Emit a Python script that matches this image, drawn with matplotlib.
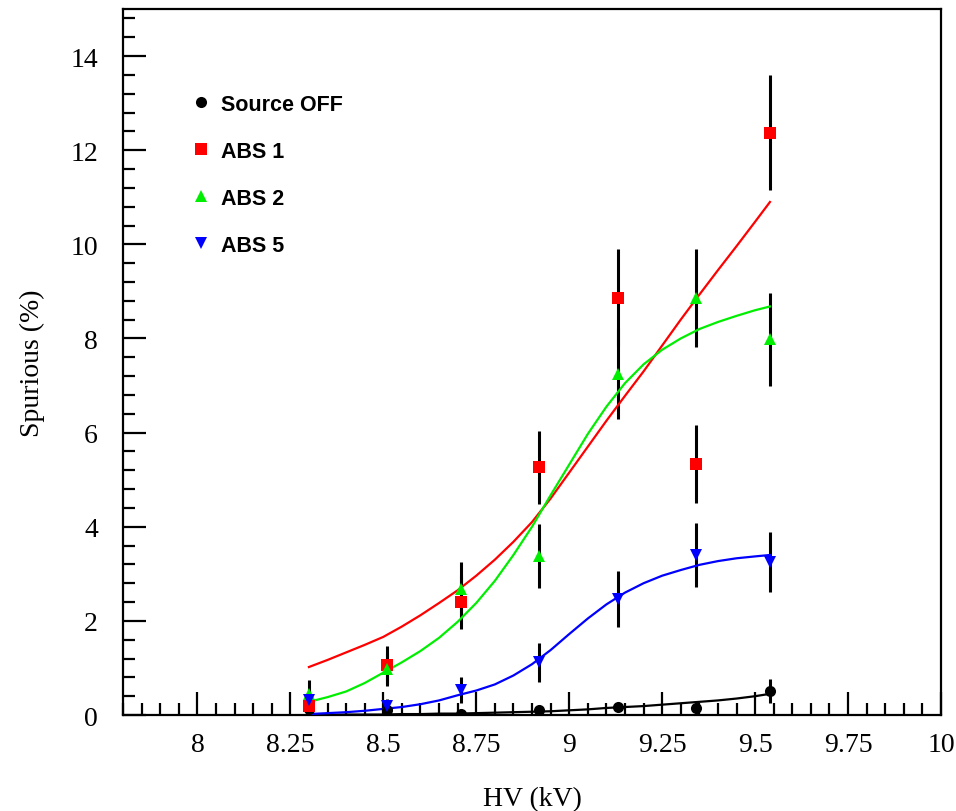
#!/usr/bin/env python3
# -*- coding: utf-8 -*-

import matplotlib
matplotlib.use('Agg')
import matplotlib.pyplot as plt
from matplotlib.ticker import MultipleLocator

#------------------------------------------------------------------------------
# Data
#------------------------------------------------------------------------------
# High voltage settings (kV)
hv = [8.30, 8.51, 8.71, 8.92, 9.13, 9.34, 9.54]

# Spurious rate (%) and errors
source_off     = [0.13, 0.10, 0.02, 0.10, 0.18, 0.15, 0.51]
source_off_err = [0.10, 0.05, 0.03, 0.06, 0.08, 0.10, 0.25]
abs1           = [0.20, 1.06, 2.40, 5.26, 8.87, 5.34, 12.37]
abs1_err       = [0.20, 0.40, 0.58, 0.77, 1.03, 0.83, 1.22]
abs2           = [0.45, 0.97, 2.67, 3.38, 7.25, 8.86, 7.98]
abs2_err       = [0.29, 0.35, 0.58, 0.68, 0.97, 1.05, 0.99]
abs5           = [0.32, 0.20, 0.53, 1.12, 2.46, 3.40, 3.25]
abs5_err       = [0.20, 0.15, 0.28, 0.42, 0.60, 0.67, 0.64]

# Fit curves
fit_hv         = [8.30, 8.35, 8.40, 8.45, 8.50, 8.55, 8.60, 8.65, 8.70,
                  8.75, 8.80, 8.85, 8.90, 8.95, 9.00, 9.05, 9.10, 9.15,
                  9.20, 9.25, 9.30, 9.35, 9.40, 9.45, 9.50, 9.54]
fit_source_off = [0.00, 0.00, 0.01, 0.01, 0.01, 0.02, 0.02, 0.03, 0.03,
                  0.04, 0.05, 0.06, 0.07, 0.08, 0.10, 0.12, 0.15, 0.17,
                  0.19, 0.22, 0.25, 0.28, 0.31, 0.35, 0.40, 0.45]
fit_abs1       = [1.02, 1.17, 1.33, 1.49, 1.66, 1.88, 2.12, 2.38, 2.65,
                  2.96, 3.30, 3.68, 4.10, 4.60, 5.15, 5.70, 6.25, 6.78,
                  7.30, 7.85, 8.40, 8.93, 9.45, 9.96, 10.48, 10.90]
fit_abs2       = [0.28, 0.38, 0.50, 0.68, 0.90, 1.12, 1.36, 1.64, 1.98,
                  2.38, 2.85, 3.40, 4.00, 4.67, 5.32, 5.97, 6.55, 7.05,
                  7.45, 7.76, 8.00, 8.20, 8.35, 8.48, 8.60, 8.68]
fit_abs5       = [0.02, 0.04, 0.06, 0.09, 0.13, 0.17, 0.23, 0.31, 0.42,
                  0.52, 0.65, 0.84, 1.08, 1.38, 1.72, 2.05, 2.35, 2.60,
                  2.80, 2.96, 3.08, 3.19, 3.27, 3.33, 3.37, 3.40]

legend_labels = ['Source OFF', 'ABS 1', 'ABS 2', 'ABS 5']

#------------------------------------------------------------------------------
# Main
#------------------------------------------------------------------------------
def main():

  # Series: values, errors, fit, colour, marker, size
  series = [(source_off, source_off_err, fit_source_off, 'black',   'o', 8),
            (abs1,       abs1_err,       fit_abs1,       '#ff0000', 's', 8),
            (abs2,       abs2_err,       fit_abs2,       '#00ee00', '^', 8),
            (abs5,       abs5_err,       fit_abs5,       '#0000ff', 'v', 8)]

  # Plot
  plot_spurious(series)
#------------------------------------------------------------------------------

#------------------------------------------------------------------------------
# Plot spurious rate
#------------------------------------------------------------------------------
def plot_spurious(series):

  # Font
  plt.rcParams['font.family'] = 'Liberation Serif'

  # Make new window
  fig = plt.figure(figsize = (9.56, 8.12), dpi = 100)
  ax  = fig.add_axes([0.1287, 0.1182, 0.8556, 0.8695])

  # Error bars
  for values, errors, fit, color, marker, size in series:
    ax.errorbar(hv, values, yerr = errors, fmt = 'none', \
                ecolor = 'black', elinewidth = 2.2, capsize = 0, zorder = 2)

  # Fit curves
  for values, errors, fit, color, marker, size in series:
    ax.plot(fit_hv, fit, '-', color = color, linewidth = 1.6, zorder = 3)

  # Markers
  handles = []
  for values, errors, fit, color, marker, size in series:
    line, = ax.plot(hv, values, linestyle = 'none', marker = marker, \
                    markersize = size, color = color, \
                    markeredgewidth = 0, zorder = 4)
    handles.append(line)

  # Axes range
  ax.set_xlim(7.8, 10.0)
  ax.set_ylim(0.0, 15.0)

  # Ticks
  ax.xaxis.set_major_locator(MultipleLocator(0.25))
  ax.xaxis.set_minor_locator(MultipleLocator(0.05))
  ax.yaxis.set_major_locator(MultipleLocator(2))
  ax.yaxis.set_minor_locator(MultipleLocator(0.4))
  ax.set_xticks([8, 8.25, 8.5, 8.75, 9, 9.25, 9.5, 9.75, 10])
  ax.set_xticklabels(['8', '8.25', '8.5', '8.75', '9', '9.25', '9.5', \
                      '9.75', '10'])
  ax.tick_params(which = 'both', direction = 'in', top = False, \
                 right = False, width = 1.6, labelsize = 20)
  ax.tick_params(which = 'major', length = 16.5)
  ax.tick_params(which = 'minor', length = 8.5)
  ax.tick_params(axis = 'x', pad = 12)
  ax.tick_params(axis = 'y', pad = 18)

  # Frame
  for spine in ax.spines.values():
    spine.set_linewidth(1.6)

  # Set axes label
  ax.set_xlabel('HV (kV)', fontsize = 20, labelpad = 21)
  ax.set_ylabel('Spurious (%)', fontsize = 20, labelpad = 18)

  # Set legend
  ax.legend(handles, legend_labels, loc = 'upper left', \
            bbox_to_anchor = (0.06, 0.907), frameon = False, \
            numpoints = 1, handlelength = 0.9, handletextpad = 0.45, \
            labelspacing = 1.2, \
            prop = {'family': 'Liberation Sans', 'weight': 'bold', \
                    'size': 15.5})

  # Save figure
  fig.savefig('out.png', dpi = 100)

  # Close figure
  plt.close(fig)
#------------------------------------------------------------------------------

#------------------------------------------------------------------------------
# Call main
#------------------------------------------------------------------------------
if __name__ == '__main__':
  main()
#------------------------------------------------------------------------------
